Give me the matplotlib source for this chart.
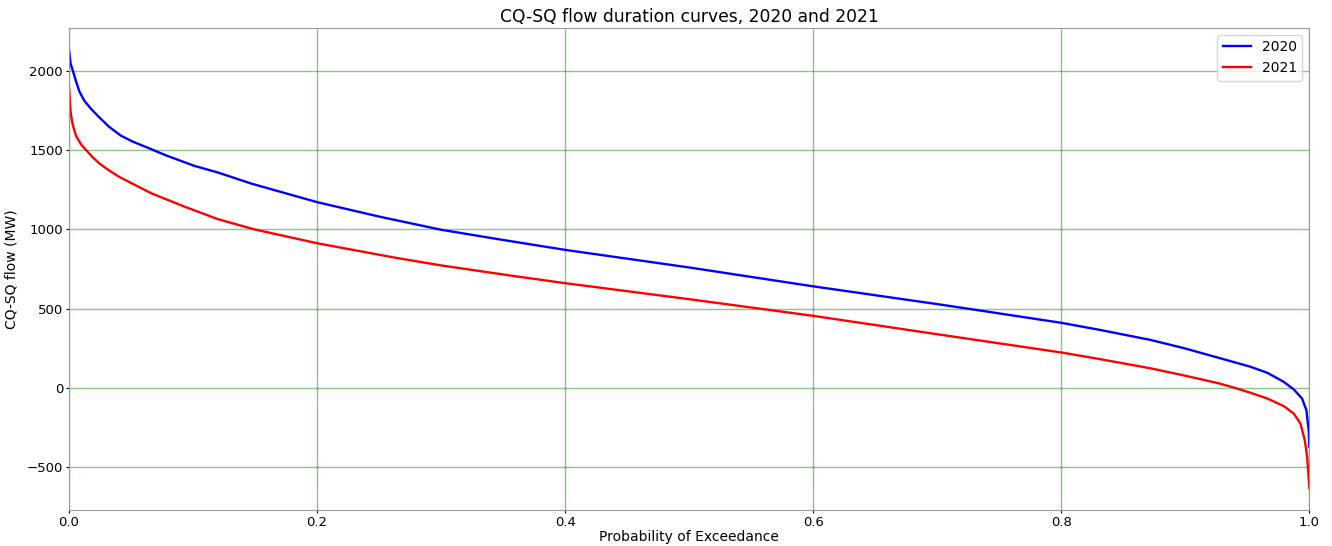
import matplotlib
matplotlib.use("Agg")
import matplotlib.pyplot as plt

# exceedance probability / flow (MW) pairs
prob_2020 = [0.0, 0.0013, 0.0035, 0.0056, 0.0083, 0.0124, 0.0177, 0.0245, 0.0325,
             0.0419, 0.0513, 0.0648, 0.0782, 0.101, 0.12, 0.147, 0.2, 0.25, 0.3,
             0.348, 0.4, 0.5, 0.6, 0.7, 0.724, 0.8, 0.832, 0.872, 0.899, 0.9256,
             0.9525, 0.966, 0.9793, 0.9874, 0.9941, 0.9976, 0.9995, 1.0]
flow_2020 = [2132, 2044, 1990, 1935, 1870, 1810, 1760, 1705, 1645,
             1590, 1553, 1510, 1466, 1400, 1358, 1288, 1171, 1080, 997,
             935, 870, 759, 640, 528, 500, 410, 364, 302, 250, 192,
             133, 95, 38, -10, -67, -141, -271, -372]

prob_2021 = [0.0, 0.0008, 0.0016, 0.003, 0.0056, 0.0097, 0.0137, 0.019, 0.0245,
             0.0325, 0.0406, 0.066, 0.093, 0.12, 0.149, 0.2, 0.262, 0.3, 0.356,
             0.4, 0.5, 0.6, 0.7, 0.8, 0.832, 0.872, 0.899, 0.9256, 0.939, 0.9525,
             0.966, 0.9793, 0.9874, 0.9928, 0.9963, 0.9982, 1.0]
flow_2021 = [1900, 1790, 1720, 1660, 1590, 1535, 1500, 1455, 1415,
             1370, 1330, 1228, 1143, 1064, 1000, 912, 822, 772, 708,
             660, 559, 454, 338, 223, 180, 123, 78, 31, 2, -31,
             -67, -115, -162, -225, -330, -435, -632]

fig = plt.figure(figsize=(13.32, 5.46), dpi=100)
ax = fig.add_axes([0.0518, 0.066, 0.9312, 0.883])

ax.plot(prob_2020, flow_2020, color="blue", linewidth=1.7, label="2020")
ax.plot(prob_2021, flow_2021, color="red", linewidth=1.7, label="2021")

ax.set_xlim(0, 1)
ax.set_title("CQ-SQ flow duration curves, 2020 and 2021", fontsize=12.3, pad=4)
ax.set_xlabel("Probability of Exceedance", fontsize=10, labelpad=1)
ax.set_ylabel("CQ-SQ flow (MW)", fontsize=10, labelpad=6)
ax.grid(True, color="green", alpha=0.45, linewidth=1)
ax.tick_params(labelsize=9.5, length=2.5, pad=1.8)

for spine in ax.spines.values():
    spine.set_color("#999999")

ax.legend(loc="upper right", fontsize=10)

fig.savefig("out.png", dpi=100)
plt.close(fig)
